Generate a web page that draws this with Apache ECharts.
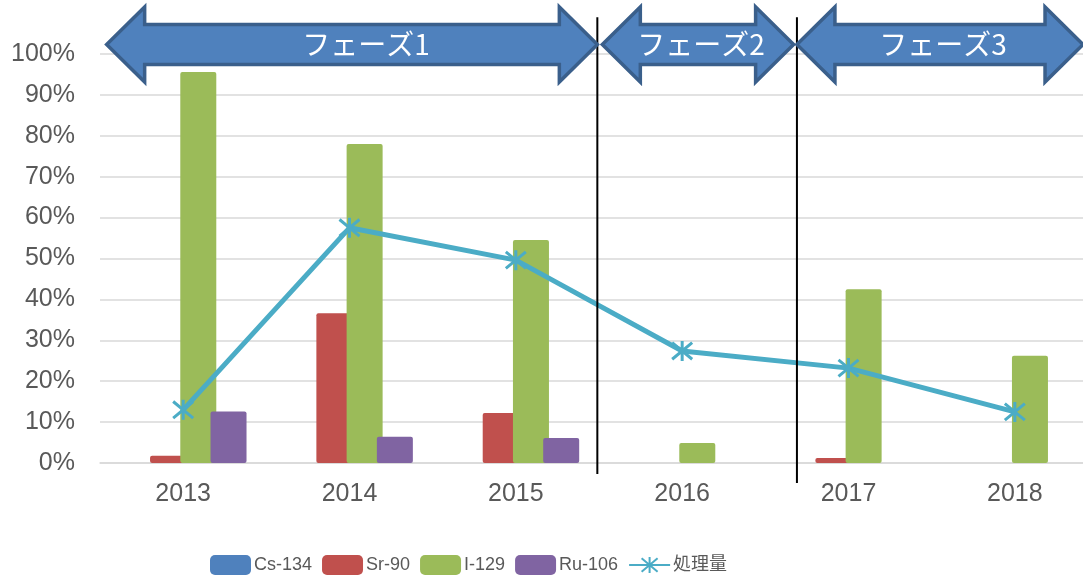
<!DOCTYPE html>
<html>
<head>
<meta charset="utf-8">
<script src="https://cdn.jsdelivr.net/npm/echarts@6/dist/echarts.min.js"></script>
<style>
html,body{margin:0;padding:0;background:#fff;}
#chart{width:1083px;height:575px;}
</style>
</head>
<body>
<div id="chart"></div>
<script>
// ---- data ----
const categories = ['2013', '2014', '2015', '2016', '2017', '2018'];
const cs134 = [0, 0, 0, 0, 0, 0];
const sr90 = [1.8, 36.6, 12.2, 0, 1.2, 0];
const i129 = [95.6, 78.0, 54.5, 4.9, 42.5, 26.2];
const ru106 = [12.6, 6.4, 6.1, 0, 0, 0];
const shoriryo = [13.0, 57.5, 49.6, 27.4, 23.2, 12.5];
const yTicks = [0, 10, 20, 30, 40, 50, 60, 70, 80, 90, 100];
const seriesNames = ['Cs-134', 'Sr-90', 'I-129', 'Ru-106', '処理量'];
// phases (annotation), in category units from the left edge of the plot
const phaseLabels = ['フェーズ1', 'フェーズ2', 'フェーズ3'];
const phaseStart = [0.04, 3.02, 4.19];
const phaseEnd = [2.99, 4.17, 5.91];
const dividerX = [2.99, 4.19];
const dividerBottom = [-2.7, -4.9];

const FONT = "'Liberation Sans', Arial, 'Noto Sans CJK JP', sans-serif";
const colors = ['#4f81bd', '#c0504d', '#9bbb59', '#8064a2', '#4bacc6'];

const chart = echarts.init(document.getElementById('chart'), null, {renderer: 'canvas'});

const barSeries = [cs134, sr90, i129, ru106].map((d, i) => ({
  name: seriesNames[i],
  type: 'bar',
  data: d,
  barWidth: 36,
  barGap: '-16%',
  itemStyle: {color: colors[i], borderRadius: 2},
  z: 2
}));

const option = {
  animation: false,
  textStyle: {fontFamily: FONT},
  grid: {left: 100, top: 54, width: 998, height: 409, containLabel: false, outerBoundsMode: 'none'},
  xAxis: {
    type: 'category',
    data: categories,
    axisTick: {show: false},
    axisLine: {lineStyle: {color: '#d9d9d9', width: 1.5}},
    axisLabel: {fontSize: 25, color: '#595959', margin: 19, fontFamily: FONT}
  },
  yAxis: {
    type: 'value',
    min: yTicks[0],
    max: yTicks[yTicks.length - 1],
    interval: 10,
    axisLine: {show: false},
    axisTick: {show: false},
    splitLine: {lineStyle: {color: '#d9d9d9', width: 1.5}},
    axisLabel: {fontSize: 25, color: '#595959', margin: 25, formatter: '{value}%', fontFamily: FONT}
  },
  legend: {
    left: 205,
    top: 550,
    itemWidth: 41,
    itemHeight: 20,
    itemGap: 10,
    textStyle: {fontSize: 18, color: '#595959', fontFamily: FONT, padding: [0, 0, 0, -2]},
    data: seriesNames
  },
  series: barSeries.concat([{
    name: seriesNames[4],
    type: 'line',
    data: shoriryo,
    symbol: 'path://M0,0L20,20M20,0L0,20M10,-2L10,22',
    symbolSize: 20,
    showAllSymbol: true,
    lineStyle: {color: colors[4], width: 5},
    itemStyle: {color: colors[4], borderColor: colors[4], borderWidth: 3},
    z: 5
  }])
};
chart.setOption(option);

// annotation graphics: phase arrows and dividers
const c0 = chart.convertToPixel({xAxisIndex: 0}, 0);
const c1 = chart.convertToPixel({xAxisIndex: 0}, 1);
const step = c1 - c0;
const ux = v => c0 + (v - 0.5) * step;
const uy = v => chart.convertToPixel({yAxisIndex: 0}, v);

const cy = 44.5, headH = 37.5, shaftH = 20, headD = 38;
const graphics = [];
phaseLabels.forEach((lab, i) => {
  const x0 = ux(phaseStart[i]), x1 = ux(phaseEnd[i]);
  const pts = [
    [x0, cy], [x0 + headD, cy - headH], [x0 + headD, cy - shaftH],
    [x1 - headD, cy - shaftH], [x1 - headD, cy - headH], [x1, cy],
    [x1 - headD, cy + headH], [x1 - headD, cy + shaftH],
    [x0 + headD, cy + shaftH], [x0 + headD, cy + headH]
  ];
  graphics.push({
    type: 'polygon',
    shape: {points: pts},
    style: {fill: '#4f81bd', stroke: '#3a5f8b', lineWidth: 3.5, lineJoin: 'miter'},
    z: 100
  });
  graphics.push({
    type: 'text',
    x: (x0 + x1) / 2 + (i === 0 ? 14 : 3),
    y: cy,
    style: {text: lab, fill: '#ffffff', fontSize: 28, fontFamily: "'Noto Sans CJK JP', sans-serif", align: 'center', verticalAlign: 'middle'},
    z: 101
  });
});
dividerX.forEach((v, i) => {
  const x = ux(v);
  graphics.push({
    type: 'line',
    shape: {x1: x, y1: uy(109), x2: x, y2: uy(dividerBottom[i])},
    style: {stroke: '#000000', lineWidth: 2},
    z: 99
  });
});
chart.setOption({graphic: graphics});
</script>
</body>
</html>
